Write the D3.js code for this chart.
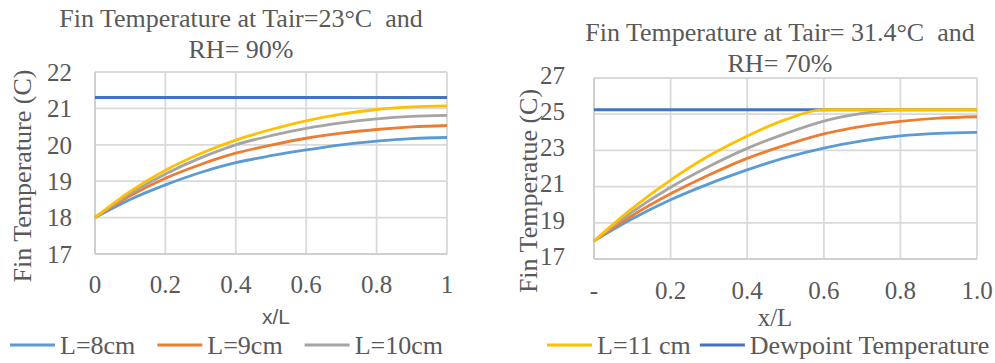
<!DOCTYPE html>
<html>
<head>
<meta charset="utf-8">
<script src="https://cdn.jsdelivr.net/npm/d3@7"></script>
<style>
  body { margin: 0; background: #fff; }
</style>
</head>
<body>
<svg id="chart" width="995" height="363"></svg>
<script>
// left chart: Tair = 23°C, RH = 90%
const xLeft = [0, 0.1, 0.2, 0.3, 0.4, 0.5, 0.6, 0.7, 0.8, 0.9, 1];
const leftL8 = [18, 18.5, 18.9, 19.24, 19.51, 19.7, 19.86, 20.0, 20.1, 20.17, 20.2];
const leftL9 = [18, 18.6, 19.08, 19.46, 19.77, 19.99, 20.18, 20.32, 20.42, 20.49, 20.53];
const leftL10 = [18, 18.66, 19.2, 19.64, 20.0, 20.25, 20.45, 20.6, 20.71, 20.78, 20.81];
const leftL11 = [18, 18.72, 19.3, 19.76, 20.13, 20.42, 20.66, 20.84, 20.97, 21.04, 21.07];
const leftDew = 21.3;
const leftYTicks = [17, 18, 19, 20, 21, 22];
const leftXTicks = [0, 0.2, 0.4, 0.6, 0.8, 1];

// right chart: Tair = 31.4°C, RH = 70%
const xRight = [0, 0.1, 0.2, 0.3, 0.4, 0.5, 0.6, 0.7, 0.8, 0.9, 1];
const rightL8 = [18, 19.22, 20.27, 21.15, 21.92, 22.6, 23.13, 23.53, 23.8, 23.94, 24.0];
const rightL9 = [18, 19.4, 20.6, 21.64, 22.56, 23.29, 23.91, 24.33, 24.6, 24.78, 24.86];
const rightL10 = [18, 19.6, 20.96, 22.11, 23.11, 23.93, 24.62, 25.04, 25.25, 25.25, 25.25];
const rightL11 = [18, 19.8, 21.36, 22.7, 23.8, 24.7, 25.25, 25.25, 25.25, 25.25, 25.25];
const rightDew = 25.25;
const rightYTicks = [17, 19, 21, 23, 25, 27];
const rightXTicks = [0, 0.2, 0.4, 0.6, 0.8, 1];

const seriesNames = ['L=8cm', 'L=9cm', 'L=10cm', 'L=11 cm', 'Dewpoint Temperature'];
const colors = ['#5B9BD5', '#ED7D31', '#A5A5A5', '#FFC000', '#4472C4'];

const SERIF = '"Liberation Serif", "DejaVu Serif", "Times New Roman", serif';
const svg = d3.select('#chart').attr('font-family', SERIF);

function txt(sel) {
  return sel.attr('fill', '#595959').attr('font-family', SERIF);
}

function drawPanel(cfg) {
  const x = d3.scaleLinear().domain([0, 1]).range([cfg.left, cfg.right]);
  const y = d3.scaleLinear().domain(d3.extent(cfg.yTicks)).range([cfg.bottom, cfg.top]);
  const g = svg.append('g');

  // gridlines
  g.selectAll('.hg').data(cfg.yTicks).join('line')
    .attr('x1', cfg.left).attr('x2', cfg.right)
    .attr('y1', d => y(d)).attr('y2', d => y(d))
    .attr('stroke', '#D9D9D9').attr('stroke-width', 1.8);
  g.selectAll('.vg').data(cfg.xTicks).join('line')
    .attr('x1', d => x(d)).attr('x2', d => x(d))
    .attr('y1', cfg.top).attr('y2', cfg.bottom)
    .attr('stroke', '#D9D9D9').attr('stroke-width', 1.8);
  g.append('line').attr('x1', cfg.left).attr('x2', cfg.left).attr('y1', cfg.top).attr('y2', cfg.bottom)
    .attr('stroke', '#CFCFCF').attr('stroke-width', 2);
  g.append('line').attr('x1', cfg.left).attr('x2', cfg.right).attr('y1', cfg.bottom).attr('y2', cfg.bottom)
    .attr('stroke', '#CFCFCF').attr('stroke-width', 2);

  // dewpoint line
  g.append('line')
    .attr('x1', x(0)).attr('x2', x(1))
    .attr('y1', y(cfg.dew)).attr('y2', y(cfg.dew))
    .attr('stroke', colors[4]).attr('stroke-width', 3);

  const line = d3.line().x((d, i) => x(cfg.xs[i])).y(d => y(d)).curve(cfg.curve);
  cfg.series.forEach((s, i) => {
    g.append('path').datum(s).attr('d', line)
      .attr('fill', 'none').attr('stroke', colors[i]).attr('stroke-width', 2.8);
  });

  // tick labels
  txt(g.selectAll('.yl').data(cfg.yTicks).join('text'))
    .attr('x', cfg.yLabelX).attr('y', d => y(d) + cfg.yLabelDy)
    .attr('dy', '0.35em').attr('text-anchor', 'end')
    .attr('font-size', 25).text(d => d);
  txt(g.selectAll('.xl').data(cfg.xTicks).join('text'))
    .attr('x', d => x(d)).attr('y', cfg.xLabelY)
    .attr('text-anchor', 'middle')
    .attr('font-size', 25).text(cfg.xFormat);

  // titles
  cfg.title.forEach((t, i) => {
    txt(g.append('text')).attr('x', cfg.titleX).attr('y', cfg.titleY[i])
      .attr('text-anchor', 'middle').attr('font-size', 26)
      .attr('xml:space', 'preserve').style('white-space', 'pre').text(t);
  });
  txt(g.append('text'))
    .attr('transform', `translate(${cfg.yTitleX},${cfg.yTitleY}) rotate(-90)`)
    .attr('text-anchor', 'middle').attr('font-size', 26).text(cfg.yTitle);
  const xt = txt(g.append('text')).attr('x', cfg.xTitleX).attr('y', cfg.xTitleY)
    .attr('text-anchor', 'middle').text('x/L');
  if (cfg.sansX) xt.attr('font-family', '"Liberation Sans", Arial, sans-serif').attr('font-size', 21);
  else xt.attr('font-size', 25);
}

drawPanel({
  left: 95, right: 447, top: 72, bottom: 254,
  xs: xLeft, series: [leftL8, leftL9, leftL10, leftL11], dew: leftDew,
  curve: d3.curveCatmullRom,
  yTicks: leftYTicks, xTicks: leftXTicks,
  yLabelX: 72, yLabelDy: 0, xLabelY: 293,
  xFormat: d => d3.format('')(d),
  title: ['Fin Temperature at Tair=23°C  and', 'RH= 90%'], titleX: 241, titleY: [27, 58],
  yTitle: 'Fin Temperature (C)', yTitleX: 31, yTitleY: 176,
  xTitleX: 276, xTitleY: 324, sansX: true
});

drawPanel({
  left: 594, right: 977, top: 78, bottom: 259,
  xs: xRight, series: [rightL8, rightL9, rightL10, rightL11], dew: rightDew,
  curve: d3.curveMonotoneX,
  yTicks: rightYTicks, xTicks: rightXTicks,
  yLabelX: 565, yLabelDy: -3, xLabelY: 299,
  xFormat: d => d === 0 ? '-' : d3.format('.1f')(d),
  title: ['Fin Temperature at Tair= 31.4°C  and', 'RH= 70%'], titleX: 780, titleY: [41, 72],
  yTitle: 'Fin Temperatue (C)', yTitleX: 537, yTitleY: 191,
  xTitleX: 775, xTitleY: 326, sansX: false
});

// legend, split under the two panels
function drawLegend(items, startX, gap) {
  let cx = startX;
  items.forEach(i => {
    svg.append('line').attr('x1', cx).attr('x2', cx + 45).attr('y1', 345).attr('y2', 345)
      .attr('stroke', colors[i]).attr('stroke-width', 3);
    const t = txt(svg.append('text')).attr('x', cx + 50).attr('y', 354)
      .attr('font-size', 26).text(seriesNames[i]);
    cx += 50 + t.node().getComputedTextLength() + gap;
  });
}
drawLegend([0, 1, 2], 10, 22);
drawLegend([3, 4], 547, 9);
</script>
</body>
</html>
